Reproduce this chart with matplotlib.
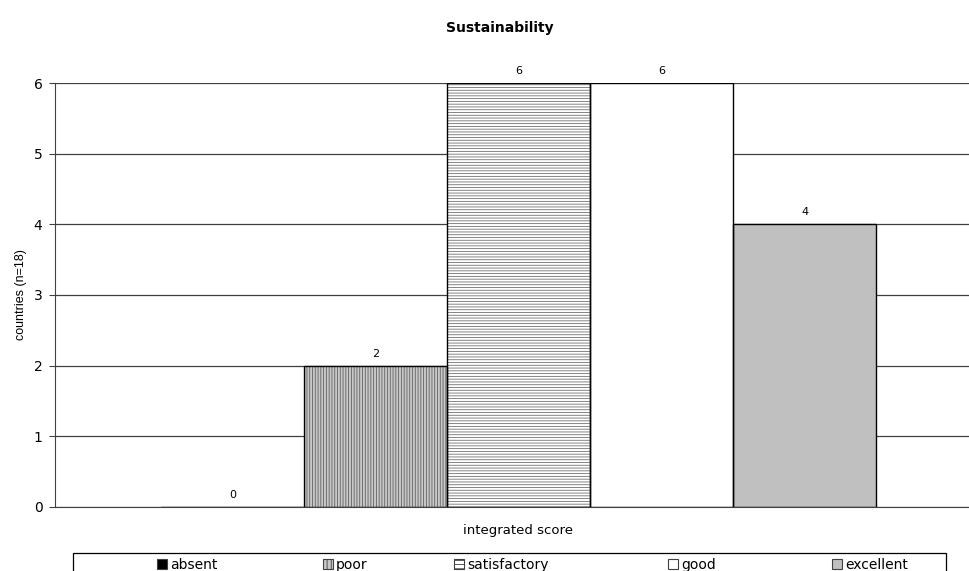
import matplotlib.pyplot as plt
from matplotlib.patches import Patch, Rectangle

plt.rcParams['font.family'] = ['DejaVu Sans']
plt.rcParams['hatch.linewidth'] = 0.6

categories = ['absent', 'poor', 'satisfactory', 'good', 'excellent']
counts = [0, 2, 6, 6, 4]
# fill, hatch, hatch colour
faces = ['black', '#c8c8c8', 'white', 'white', '#c0c0c0']
hatches = ['', '||||||', '------', '', '']
hatch_cols = ['black', '#606060', '#707070', 'black', 'black']
# legend entry centres (figure pixels)
legend_x = [187, 345, 501, 692, 870]

fig = plt.figure(figsize=(9.69, 5.71), dpi=100)
ax = fig.add_axes([55/969, 64/571, 914/969, 424/571])

x = list(range(len(categories)))
# hatched fill first, then plain outline on top
for i in x:
    ax.bar(x[i], counts[i], width=1.0, color=faces[i], hatch=hatches[i],
           edgecolor=hatch_cols[i], linewidth=0, zorder=2)
bars = ax.bar(x, counts, width=1.0, fill=False, edgecolor='black', linewidth=1.0, zorder=3)
ax.bar_label(bars, labels=[str(c) for c in counts], padding=5, fontsize=8)

ax.set_xlim(-1.241, 5.15)
ax.set_ylim(0, 6)
ax.set_yticks(range(7))
ax.tick_params(axis='y', labelsize=10, length=4, pad=5, direction='out', color='#404040')
ax.set_xticks([])
ax.yaxis.grid(True, color='#404040', linewidth=0.9, zorder=0)
ax.set_axisbelow(True)
for s in ['top', 'right']:
    ax.spines[s].set_visible(False)
ax.spines['left'].set_color('#404040')
ax.spines['bottom'].set_color('#404040')

ax.set_ylabel('countries (n=18)', fontsize=9, labelpad=5, family='Liberation Sans')
ax.set_xlabel('integrated score', fontsize=9.5)
ax.xaxis.set_label_coords((518 - 55) / 914, -17 / 424)
fig.text(500 / 969, 1 - 28/571, 'Sustainability', ha='center', va='center',
         fontsize=10, fontweight='bold')

# legend frame, cut by the bottom edge of the figure
fig.patches.append(Rectangle((73/969, -0.02), 873/969, 0.02 + 18/571,
                             transform=fig.transFigure, fill=False,
                             edgecolor='black', linewidth=0.9))
for i in x:
    h = Patch(facecolor=faces[i], hatch=hatches[i].replace('||||||', '||||').replace('------', '----'),
              edgecolor='#404040', linewidth=0.8)
    lg = fig.legend([h], [categories[i]], loc='center',
                    bbox_to_anchor=(legend_x[i]/969, 1 - 565/571),
                    fontsize=10, frameon=False,
                    handlelength=0.75, handleheight=0.75, handletextpad=0.2,
                    borderpad=0, borderaxespad=0)

plt.savefig('out.png', dpi=100)
